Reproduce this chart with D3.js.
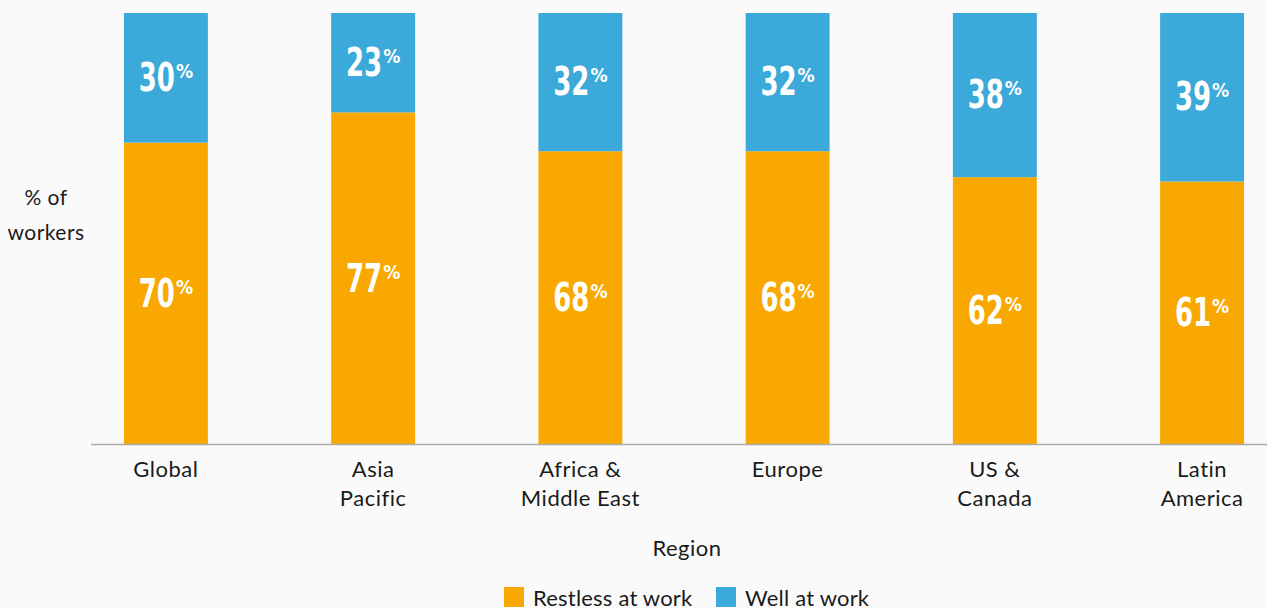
<!DOCTYPE html>
<head>
    <meta charset="utf-8">
    <script src="https://d3js.org/d3.v7.min.js"></script>
    <title>Restless vs well at work</title>
    <style>
        body { margin: 0; background: #fafafa; }
        svg { display: block; }
        .lbl { font-family: Lato, "Open Sans", sans-serif; fill: #1a1a1a; letter-spacing: 0.5px; }
        .legend text { letter-spacing: 0.2px; }
        .val { font-family: "DejaVu Sans Condensed", "DejaVu Sans", sans-serif; font-weight: bold; fill: #fff; }
    </style>
</head>

<body>
    <svg id="chart" width="1267" height="608"></svg>
    <script>

        // data
        var regions = ["Global", "Asia Pacific", "Africa & Middle East", "Europe", "US & Canada", "Latin America"]
        var regionLines = [["Global"], ["Asia", "Pacific"], ["Africa &", "Middle East"], ["Europe"], ["US &", "Canada"], ["Latin", "America"]]
        var restless = [70, 77, 68, 68, 62, 61]
        var well = [30, 23, 32, 32, 38, 39]
        var seriesNames = ["Restless at work", "Well at work"]

        var colors = { "Restless at work": "#f8a800", "Well at work": "#3ba9d9" }

        var width = 1267, height = 608
        var svg = d3.select("#chart")

        var x = d3.scaleBand()
            .domain(regions)
            .range([91, 1277])
            .paddingInner(0.595)
            .paddingOuter(0.159)

        var y = d3.scaleLinear().domain([0, 100]).range([445, 13])

        var table = regions.map(function (r, i) {
            return { region: r, "Restless at work": restless[i], "Well at work": well[i] }
        })
        var stacked = d3.stack().keys(seriesNames)(table)

        var layer = svg.append("g").selectAll("g")
            .data(stacked)
            .enter().append("g")
            .attr("fill", d => colors[d.key])

        layer.selectAll("rect")
            .data(d => d)
            .enter().append("rect")
            .attr("x", d => x(d.data.region))
            .attr("width", x.bandwidth())
            .attr("y", d => y(d[1]))
            .attr("height", d => y(d[0]) - y(d[1]))

        // value labels: condensed number + small raised %
        var val = layer.selectAll("g.val")
            .data(d => d)
            .enter().append("g")
            .attr("class", "val")
            .attr("transform", d => `translate(${x(d.data.region) + x.bandwidth() / 2}, ${(y(d[0]) + y(d[1])) / 2 + 13})`)

        val.append("text")
            .attr("text-anchor", "end")
            .attr("font-size", 39)
            .attr("transform", "translate(9,0) scale(0.74,1)")
            .text(d => d[1] - d[0])

        val.append("text")
            .attr("text-anchor", "start")
            .attr("font-size", 19)
            .attr("x", 10)
            .attr("y", -13)
            .text("%")

        // baseline
        svg.append("line")
            .attr("x1", 91).attr("x2", width)
            .attr("y1", y(0) - 0.5).attr("y2", y(0) - 0.5)
            .attr("stroke", "#aaaaaa")
            .attr("stroke-width", 1.5)

        // category labels
        var cat = svg.append("g").selectAll("text")
            .data(regions)
            .enter().append("text")
            .attr("class", "lbl")
            .attr("font-size", 22)
            .attr("text-anchor", "middle")
            .attr("x", d => x(d) + x.bandwidth() / 2)
            .attr("y", 477)

        cat.each(function (d, i) {
            var t = d3.select(this)
            regionLines[i].forEach(function (line, j) {
                t.append("tspan")
                    .attr("x", x(d) + x.bandwidth() / 2)
                    .attr("dy", j === 0 ? 0 : 29)
                    .text(line)
            })
        })

        // axis titles
        svg.append("text").attr("class", "lbl").attr("font-size", 22)
            .attr("text-anchor", "middle").attr("x", 687).attr("y", 556)
            .text("Region")

        var ytitle = svg.append("text").attr("class", "lbl").attr("font-size", 21)
            .attr("text-anchor", "middle").attr("x", 46).attr("y", 205)
        ytitle.append("tspan").attr("x", 46).text("% of")
        ytitle.append("tspan").attr("x", 46).attr("dy", 35).text("workers")

        // legend
        var legendX = [504, 716]
        var legend = svg.append("g").attr("class", "legend").selectAll("g")
            .data(seriesNames)
            .enter().append("g")
            .attr("transform", (d, i) => `translate(${legendX[i]}, 587)`)

        legend.append("rect")
            .attr("width", 20).attr("height", 20)
            .attr("fill", d => colors[d])

        legend.append("text")
            .attr("class", "lbl")
            .attr("font-size", 22)
            .attr("x", 29)
            .attr("y", 19)
            .text(d => d)

    </script>
</body>
